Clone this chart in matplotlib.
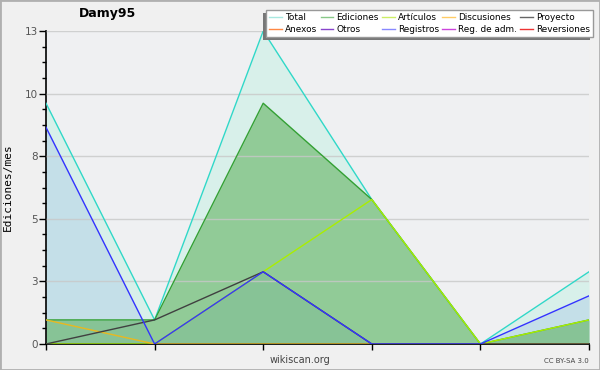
import matplotlib.pyplot as plt
from matplotlib.patches import Rectangle
from matplotlib.lines import Line2D

# Datos mensuales (6 meses)
meses = [0, 1, 2, 3, 4, 5]
total = [10, 1, 13, 6, 0, 3]
ediciones = [1, 1, 10, 6, 0, 1]
registros = [9, 0, 3, 0, 0, 2]
articulos = [0, 0, 3, 6, 0, 1]
discusiones = [1, 0, 0, 0, 0, 0]
proyecto = [0, 1, 3, 0, 0, 0]

y_ticks = [0, 2.6, 5.2, 7.8, 10.4, 13]
y_labels = ['0', '3', '5', '8', '10', '13']

leyenda = [('Total', '#a8e8e0'), ('Ediciones', '#88c888'), ('Artículos', '#ccee66'),
           ('Discusiones', '#ffcc66'), ('Proyecto', '#666666'), ('Anexos', '#ff8844'),
           ('Otros', '#8844cc'), ('Registros', '#8888ff'), ('Reg. de adm.', '#cc44dd'),
           ('Reversiones', '#ee3333')]

fig = plt.figure(figsize=(6, 3.7), dpi=100, facecolor='#f0f0f0')
fig.patches.append(Rectangle((0, 0), 1, 1, transform=fig.transFigure, fill=False,
                             edgecolor='#b0b0b0', linewidth=2, zorder=0))
ax = fig.add_axes([46 / 600, 26 / 370, 543 / 600, 313 / 370])
ax.set_facecolor('#eff0f2')

# Rellenos
ax.fill_between(meses, total, color='#d8f0ea', linewidth=0, zorder=1)
ax.fill_between(meses, registros, color='#c4dfe8', linewidth=0, zorder=1.1)
ax.fill_between(meses, ediciones, color='#4ca846', alpha=0.5, linewidth=0, zorder=1.2)

# Líneas
ax.plot(meses, total, color='#30d8c8', lw=1, zorder=3)
ax.plot(meses, ediciones, color='#33a033', lw=1, zorder=3.1)
ax.plot(meses, articulos, color='#aaee00', lw=1, zorder=3.2)
ax.plot(meses, discusiones, color='#e8b820', lw=1, zorder=3.3)
ax.plot(meses, proyecto, color='#404040', lw=1, zorder=3.4)
ax.plot(meses, registros, color='#3333ff', lw=1, zorder=3.5)

ax.set_xlim(0, 5)
ax.set_ylim(0, 13)
ax.set_xticks(meses)
ax.set_xticklabels([])
ax.set_yticks(y_ticks)
ax.set_yticklabels(y_labels)
ax.set_yticks([y_ticks[0] + 0.65 * i for i in range(21)], minor=True)
ax.tick_params(axis='y', which='major', length=5, width=1, labelsize=7.5,
               labelcolor='#555555', pad=1)
ax.tick_params(axis='y', which='minor', length=3, width=1)
ax.tick_params(axis='x', length=4, width=1)
ax.grid(axis='y', color='#c8c8c8', linewidth=1, alpha=0.8, zorder=2)
ax.set_axisbelow(False)
for s in ['top', 'right']:
    ax.spines[s].set_visible(False)
ax.spines['left'].set_linewidth(1.2)
ax.spines['bottom'].set_linewidth(1.2)

ax.set_ylabel('Ediciones/mes', fontsize=8, family='DejaVu Sans Mono', labelpad=8)

fig.text(108 / 600, 1 - 14 / 370, 'Damy95', fontsize=9, fontweight='bold',
         ha='center', va='center')
fig.text(300 / 600, 1 - 360 / 370, 'wikiscan.org', fontsize=7, color='#444444',
         ha='center', va='center')
fig.text(589 / 600, 1 - 361 / 370, 'CC BY-SA 3.0', fontsize=5, color='#444444',
         ha='right', va='center')

# Leyenda (orden por columnas para ncol=5)
handles = [Line2D([], [], color=c, lw=1) for _, c in leyenda]
labels = [n for n, _ in leyenda]
orden = [0, 5, 1, 6, 2, 7, 3, 8, 4, 9]
leg = fig.legend([handles[i] for i in orden], [labels[i] for i in orden], ncol=5,
                 loc='upper right', bbox_to_anchor=(593 / 600, 1 - 10 / 370),
                 fontsize=6.4, frameon=True, fancybox=False, edgecolor='#999999',
                 facecolor='white', framealpha=1, handlelength=1.4, handletextpad=0.35,
                 columnspacing=0.4, labelspacing=0.3, borderpad=0.35, borderaxespad=0)
leg.set_zorder(10)
fig.canvas.draw()
bb = leg.get_window_extent()
fig.patches.append(Rectangle((bb.x0 - 3, bb.y0 - 3), bb.width, bb.height,
                             transform=None, facecolor='#777777', edgecolor='none',
                             zorder=9))

fig.savefig('out.png', dpi=100, facecolor=fig.get_facecolor())
